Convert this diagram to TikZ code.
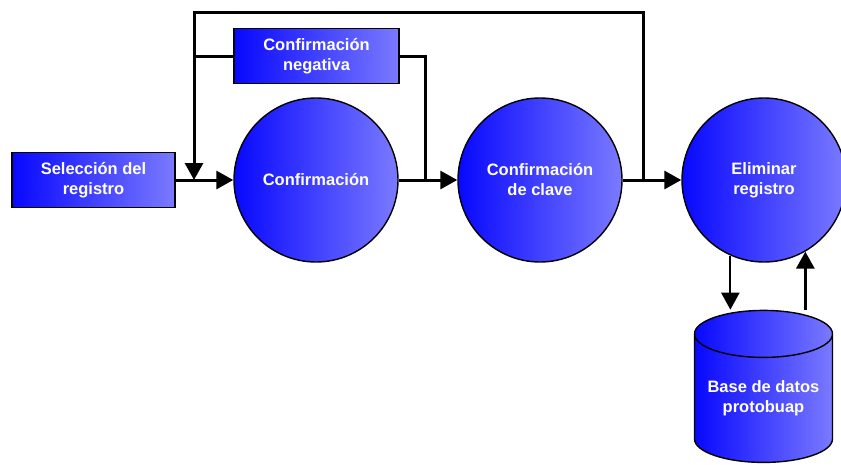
\documentclass[tikz,border=0pt]{standalone}
\usepackage{fontspec}
\setmainfont{Liberation Sans}
\usetikzlibrary{arrows.meta,shapes.geometric}
\definecolor{azulA}{RGB}{8,8,255}
\definecolor{azulB}{RGB}{122,122,255}

\begin{document}
\begin{tikzpicture}[x=1pt,y=-1pt,
        proceso/.style={circle,draw=black,line width=1.4pt,minimum size=164pt,inner sep=0pt,
            left color=azulA,right color=azulB,text=white,align=center,
            font=\fontsize{16.5}{20}\selectfont\bfseries},
        caja/.style={rectangle,draw=black,line width=1.8pt,minimum height=55pt,inner sep=0pt,
            left color=azulA,right color=azulB,text=white,align=center,
            font=\fontsize{16.5}{20}\selectfont\bfseries},
        flecha/.style={line width=3pt,-{Triangle[length=17pt,width=18pt]}},
        linea/.style={line width=3pt}]
    \useasboundingbox (0,0) rectangle (841,464);

    % nodos
    \node[caja,minimum width=163pt] (sel) at (93.5,180) {Selección del\\registro};
    \node[proceso] (conf) at (316,180) {Confirmación};
    \node[caja,minimum width=165pt] (neg) at (316.5,56) {Confirmación\\negativa};
    \node[proceso] (clave) at (540,180) {Confirmación\\de clave};
    \node[proceso] (elim) at (764,180) {Eliminar\\registro};
    \node[cylinder,shape border rotate=90,aspect=0.42,draw=black,line width=1.4pt,
        minimum width=138pt,minimum height=152pt,inner sep=0pt,
        left color=azulA,right color=azulB,text=white,align=center,
        font=\fontsize{16.5}{20}\selectfont\bfseries] (bd) at (763.5,398.5) {Base de datos\\protobuap};

    % puntos de union
    \coordinate (j1) at (194,180);
    \coordinate (j2) at (425,180);
    \coordinate (j3) at (643,180);
    \coordinate (esq) at (194,12);

    % flujo principal
    \draw[flecha] (sel) -- (conf);
    \draw[flecha] (conf) -- (clave);
    \draw[flecha] (clave) -- (elim);

    % retornos
    \draw[flecha] (j3) |- (esq) -- (j1);
    \draw[linea] (neg.west) -- (neg.west -| j1);
    \draw[linea] (neg.east) -| (j2);

    % base de datos
    \draw[line width=2.2pt,-{Triangle[length=17pt,width=18pt]}] (elim.-114) -- (elim.-114 |- bd.north);
    \draw[flecha] (elim.-60 |- bd.north) -- (elim.-60);
\end{tikzpicture}
\end{document}
